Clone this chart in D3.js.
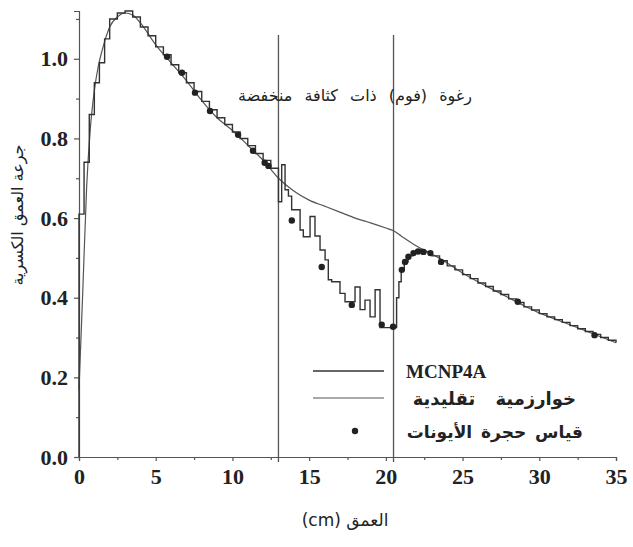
<!DOCTYPE html>
<html>
<head>
<meta charset="utf-8">
<script src="https://cdn.jsdelivr.net/npm/d3@7"></script>
<style>
  body { margin: 0; background: #fff; }
  .tick text { font-family: "Liberation Serif", serif; font-weight: bold; font-size: 22px; fill: #222; }
  .ar { font-family: "DejaVu Sans", sans-serif; fill: #222; }
</style>
</head>
<body>
<svg id="chart"></svg>
<script>
// MCNP4A histogram: bin left edge (cm) and dose
const mcnpDepth = [0, 0.33, 0.67, 1.0, 1.33, 1.67, 2.0, 2.5, 3.0, 3.5, 4.0, 4.5, 5.0, 5.5, 6.0, 6.5, 7.0, 7.5, 8.0, 8.5,
  9.0, 9.5, 10.0, 10.5, 11.0, 11.5, 12.0, 12.5,
  13.0, 13.21, 13.43, 13.65, 13.86, 14.41, 14.62, 15.06, 15.38, 15.71, 16.04, 16.25, 16.47, 17.01, 17.34, 17.99,
  18.32, 18.64, 18.97, 19.3, 19.62, 20.7, 20.85, 21.0, 21.2, 21.45, 21.75, 22.1, 22.5, 23.0, 23.5, 24.0, 24.5,
  25.0, 25.5, 26.0, 26.5, 27.0, 27.5, 28.0, 28.5, 29.0, 29.5, 30.0, 30.5, 31.0, 31.5, 32.0, 32.5, 33.0, 33.5,
  34.0, 34.5, 35.0];
const mcnpDose = [0.61, 0.74, 0.86, 0.94, 0.99, 1.05, 1.10, 1.115, 1.12, 1.105, 1.08, 1.058, 1.03, 1.01, 0.985, 0.965, 0.94, 0.918, 0.893, 0.872,
  0.852, 0.835, 0.816, 0.8, 0.782, 0.762, 0.745, 0.725,
  0.641, 0.734, 0.671, 0.655, 0.621, 0.57, 0.553, 0.604, 0.555, 0.52, 0.495, 0.445, 0.44, 0.411, 0.39, 0.427,
  0.37, 0.394, 0.352, 0.42, 0.325, 0.40, 0.44, 0.47, 0.49, 0.505, 0.515, 0.52, 0.515, 0.505, 0.493, 0.48, 0.47,
  0.458, 0.448, 0.437, 0.428, 0.417, 0.408, 0.397, 0.388, 0.377, 0.369, 0.36, 0.352, 0.345, 0.338, 0.33, 0.322, 0.315, 0.308,
  0.30, 0.293, 0.287];

// conventional algorithm (smooth)
const convDepth = [0, 0.25, 0.5, 0.75, 1.0, 1.25, 1.5, 2.0, 2.5, 3.0, 3.5, 4.0, 5, 6, 7, 8, 9, 10, 11, 12, 13,
  14, 15, 16, 17, 18, 19, 20, 20.5, 21, 22, 23, 24, 25, 26, 27, 28, 29, 30, 31, 32, 33, 34, 35];
const convDose = [0.17, 0.42, 0.68, 0.83, 0.92, 0.98, 1.02, 1.08, 1.105, 1.115, 1.11, 1.09, 1.035, 0.99, 0.945, 0.895, 0.852, 0.82, 0.783, 0.745, 0.70,
  0.668, 0.645, 0.63, 0.615, 0.60, 0.588, 0.575, 0.568, 0.555, 0.53, 0.51, 0.487, 0.462, 0.44, 0.42, 0.40, 0.38, 0.362, 0.347, 0.332, 0.317, 0.302, 0.287];

// ion chamber measurements
const ionDepth = [5.74, 6.71, 7.56, 8.54, 10.37, 11.34, 12.1, 12.35, 13.87, 15.82, 17.78, 19.73, 20.47,
  21.04, 21.25, 21.47, 21.8, 22.1, 22.45, 22.9, 23.6, 28.6, 33.6];
const ionDose = [1.005, 0.965, 0.915, 0.869, 0.809, 0.769, 0.739, 0.731, 0.594, 0.477, 0.382, 0.332, 0.327,
  0.47, 0.49, 0.503, 0.512, 0.516, 0.515, 0.512, 0.49, 0.39, 0.306];

const xTicks = [0, 5, 10, 15, 20, 25, 30, 35];
const yTicks = [0.0, 0.2, 0.4, 0.6, 0.8, 1.0];
const foamEdges = [13, 20.5];

const width = 633, height = 547;
const svg = d3.select("#chart").attr("width", width).attr("height", height);

const x = d3.scaleLinear().domain([0, 35]).range([79, 616]);
const y = d3.scaleLinear().domain([0, 1.12]).range([457, 11]);

// axes
svg.append("g").attr("transform", `translate(0,${y(0)})`)
  .call(d3.axisBottom(x).tickValues(xTicks).tickFormat(d3.format("d")).tickSize(4).tickPadding(7));
svg.append("g").attr("transform", `translate(0,${y(0)})`)
  .call(d3.axisBottom(x).tickValues(xTicks.slice(0, -1).map(d => d + 2.5)).tickFormat("").tickSize(3))
  .select(".domain").remove();
svg.append("g").attr("transform", `translate(${x(0)},0)`)
  .call(d3.axisLeft(y).tickValues(yTicks).tickFormat(d3.format(".1f")).tickSize(5).tickPadding(6));
svg.append("g").attr("transform", `translate(${x(0)},0)`)
  .call(d3.axisLeft(y).tickValues(yTicks.map(d => d + 0.1)).tickFormat("").tickSize(3))
  .select(".domain").remove();
svg.selectAll(".domain, .tick line").attr("stroke", "#555").attr("stroke-width", 1.2);

// foam boundaries
svg.selectAll(".foam").data(foamEdges).enter().append("line")
  .attr("x1", d => x(d)).attr("x2", d => x(d))
  .attr("y1", 35).attr("y2", y(0) + 5)
  .attr("stroke", "#555").attr("stroke-width", 1.3);

svg.append("text").attr("class", "ar")
  .attr("x", 355).attr("y", 101).attr("text-anchor", "middle")
  .style("font-size", "16px").style("word-spacing", "7px")
  .text("رغوة (فوم) ذات كثافة منخفضة");

// conventional line
const conv = convDepth.map((d, i) => [d, convDose[i]]);
svg.append("path").datum(conv)
  .attr("fill", "none").attr("stroke", "#555").attr("stroke-width", 1.2)
  .attr("d", d3.line().x(d => x(d[0])).y(d => y(d[1])).curve(d3.curveMonotoneX));

// MCNP histogram
const mcnp = [[0, 0]].concat(mcnpDepth.map((d, i) => [d, mcnpDose[i]]));
svg.append("path").datum(mcnp)
  .attr("fill", "none").attr("stroke", "#333").attr("stroke-width", 1.4)
  .attr("d", d3.line().x(d => x(d[0])).y(d => y(d[1])).curve(d3.curveStepAfter));

// ion chamber points
svg.selectAll(".ion").data(ionDepth).enter().append("circle")
  .attr("cx", d => x(d)).attr("cy", (d, i) => y(ionDose[i]))
  .attr("r", 3.2).attr("fill", "#222");

// legend
svg.append("line").attr("x1", 313).attr("x2", 384).attr("y1", 371).attr("y2", 371)
  .attr("stroke", "#333").attr("stroke-width", 1.4);
svg.append("line").attr("x1", 313).attr("x2", 384).attr("y1", 398).attr("y2", 398)
  .attr("stroke", "#555").attr("stroke-width", 1.2);
svg.append("circle").attr("cx", 355).attr("cy", 431).attr("r", 3.2).attr("fill", "#222");
svg.append("text").attr("x", 406).attr("y", 378)
  .style("font-family", "Liberation Serif, serif").style("font-weight", "bold").style("font-size", "19px").style("fill", "#222")
  .text("MCNP4A");
svg.append("text").attr("class", "ar").attr("x", 576).attr("y", 405).attr("text-anchor", "end")
  .style("font-size", "18px").style("font-weight", "bold").style("word-spacing", "14px").text("خوارزمية تقليدية");
svg.append("text").attr("class", "ar").attr("x", 583).attr("y", 438).attr("text-anchor", "end")
  .style("font-size", "17px").style("font-weight", "bold").style("word-spacing", "3px").text("قياس حجرة الأيونات");

// axis titles
svg.append("text").attr("class", "ar")
  .attr("transform", `translate(23,215) rotate(-90)`).attr("text-anchor", "middle")
  .style("font-size", "16px").text("جرعة العمق الكسرية");
svg.append("text").attr("class", "ar")
  .attr("x", 345).attr("y", 526).attr("text-anchor", "middle").attr("direction", "rtl")
  .style("font-size", "17px").text("العمق (cm)");
</script>
</body>
</html>
